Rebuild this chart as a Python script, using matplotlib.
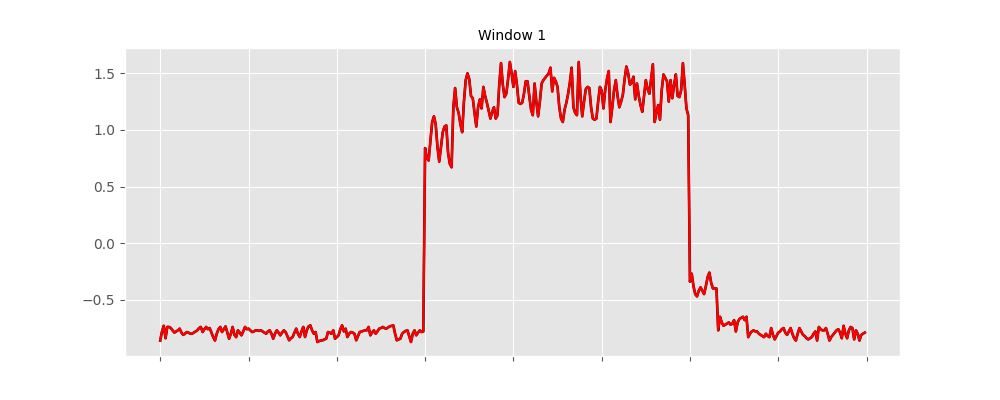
import matplotlib
matplotlib.use("Agg")
import matplotlib.pyplot as plt
import numpy as np

plt.style.use("ggplot")

title = "Window 1"

low_start = [
    -0.86, -0.78, -0.73, -0.84, -0.74, -0.74, -0.75, -0.77, -0.79, -0.78,
    -0.77, -0.755, -0.79, -0.81, -0.80, -0.785, -0.79, -0.80, -0.80, -0.79,
    -0.78, -0.77, -0.75, -0.74, -0.785, -0.76, -0.74, -0.76, -0.75, -0.79,
    -0.83, -0.86, -0.80, -0.76, -0.74, -0.785, -0.76, -0.735, -0.79, -0.844,
    -0.80, -0.74, -0.81, -0.83, -0.77, -0.79, -0.814, -0.78, -0.74, -0.76,
    -0.755, -0.77, -0.785, -0.78, -0.77, -0.77, -0.775, -0.77, -0.78, -0.79,
    -0.80, -0.78, -0.77, -0.80, -0.844, -0.80, -0.77, -0.79, -0.814, -0.79,
    -0.77, -0.785, -0.82, -0.858, -0.84, -0.829, -0.79, -0.755, -0.80, -0.829,
    -0.78, -0.74, -0.829, -0.77, -0.735, -0.726, -0.77, -0.80, -0.785, -0.873,
    -0.865, -0.86, -0.858, -0.85, -0.844, -0.785, -0.79, -0.80, -0.77, -0.844,
    -0.83, -0.814, -0.76, -0.726, -0.78, -0.755, -0.829, -0.80, -0.785, -0.79,
    -0.80, -0.858, -0.82, -0.785, -0.78, -0.775, -0.77, -0.77, -0.74, -0.814,
    -0.79, -0.77, -0.80, -0.78, -0.755, -0.75, -0.74, -0.75, -0.755, -0.745,
    -0.735, -0.73, -0.726, -0.80, -0.858, -0.85, -0.844, -0.80, -0.785, -0.775,
    -0.77, -0.82, -0.873, -0.80, -0.77, -0.814, -0.79, -0.77, -0.785, -0.78,
]

high_middle = [
    0.84, 0.75, 0.73, 0.90, 1.07, 1.12, 1.05, 0.85, 0.72, 0.85,
    0.98, 1.03, 1.04, 0.80, 0.70, 0.67, 1.20, 1.37, 1.20, 1.15,
    1.05, 0.98, 1.25, 1.44, 1.50, 1.45, 1.30, 1.28, 1.15, 1.03,
    1.20, 1.27, 1.19, 1.38, 1.30, 1.24, 1.17, 1.10, 1.16, 1.20,
    1.10, 1.13, 1.40, 1.59, 1.40, 1.29, 1.32, 1.45, 1.60, 1.50,
    1.38, 1.52, 1.40, 1.24, 1.23, 1.24, 1.32, 1.43, 1.43, 1.30,
    1.18, 1.13, 1.41, 1.25, 1.12, 1.25, 1.41, 1.44, 1.46, 1.48,
    1.50, 1.55, 1.34, 1.46, 1.43, 1.38, 1.20, 1.10, 1.07, 1.18,
    1.24, 1.32, 1.42, 1.55, 1.20, 1.15, 1.13, 1.60, 1.30, 1.12,
    1.25, 1.36, 1.38, 1.37, 1.20, 1.10, 1.09, 1.10, 1.25, 1.38,
    1.35, 1.19, 1.35, 1.45, 1.52, 1.07, 1.20, 1.35, 1.44, 1.30,
    1.20, 1.25, 1.31, 1.45, 1.56, 1.50, 1.40, 1.42, 1.47, 1.27,
    1.41, 1.30, 1.22, 1.16, 1.30, 1.44, 1.36, 1.32, 1.45, 1.58,
    1.07, 1.15, 1.22, 1.09, 1.35, 1.49, 1.46, 1.43, 1.25, 1.44,
    1.28, 1.40, 1.49, 1.30, 1.29, 1.35, 1.59, 1.40, 1.19, 1.13,
]

shelf = [
    -0.34, -0.27, -0.38, -0.45, -0.47, -0.42, -0.39, -0.42, -0.45, -0.38,
    -0.30, -0.26, -0.35, -0.40, -0.40, -0.40,
]

low_end = [
    -0.77, -0.65, -0.70, -0.73, -0.72, -0.71, -0.70, -0.72, -0.71, -0.68,
    -0.78, -0.70, -0.67, -0.66, -0.65, -0.68, -0.65, -0.83, -0.80, -0.78,
    -0.77, -0.78, -0.78, -0.80, -0.81, -0.82, -0.83, -0.80, -0.82, -0.83,
    -0.75, -0.81, -0.85, -0.82, -0.79, -0.78, -0.76, -0.75, -0.79, -0.81,
    -0.78, -0.75, -0.80, -0.84, -0.86, -0.80, -0.75, -0.78, -0.81, -0.82,
    -0.84, -0.85, -0.84, -0.83, -0.80, -0.78, -0.86, -0.74, -0.76, -0.77,
    -0.77, -0.75, -0.80, -0.86, -0.83, -0.81, -0.79, -0.77, -0.76, -0.79,
    -0.84, -0.73, -0.80, -0.84, -0.77, -0.74, -0.75, -0.85, -0.77, -0.80,
    -0.86, -0.81, -0.80, -0.79,
]

values = low_start + high_middle + shelf + low_end
x = np.arange(len(values))
xtick_positions = [0, 50, 100, 150, 200, 250, 300, 350, 400]

fig, ax = plt.subplots(figsize=(10, 4), dpi=100)
ax.plot(x, values, color="#400000", linewidth=1.9, zorder=2)
ax.plot(x, values, color="#ff0000", linewidth=1.6, zorder=3)
ax.set_title(title, fontsize=10, color="black")
ax.set_xticks(xtick_positions)
ax.set_xticklabels([])
ax.set_yticks([-0.5, 0.0, 0.5, 1.0, 1.5])
fig.savefig("out.png", dpi=100)
